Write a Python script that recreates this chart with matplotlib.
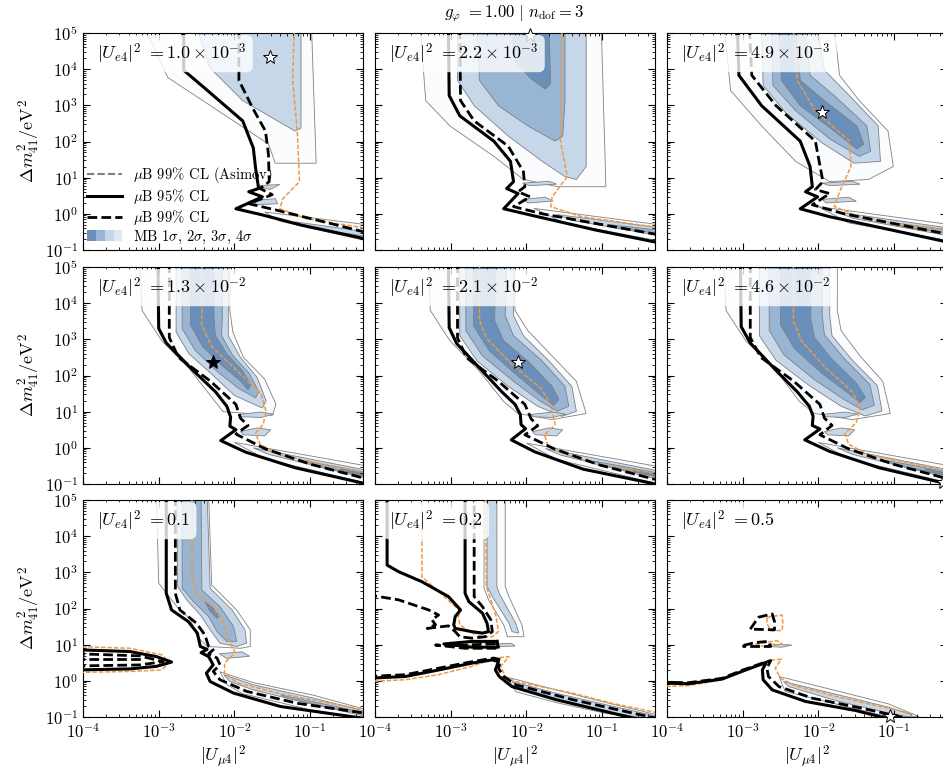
import numpy as np
import matplotlib
matplotlib.use('Agg')
import matplotlib.pyplot as plt
from matplotlib.lines import Line2D
from matplotlib.patches import Patch
from matplotlib.legend_handler import HandlerTuple

plt.rcParams['mathtext.fontset'] = 'cm'
plt.rcParams['font.family'] = 'serif'
plt.rcParams['font.serif'] = ['cmr10', 'DejaVu Serif']
plt.rcParams['axes.formatter.use_mathtext'] = True

# every curve is a list of (log10 |U_mu4|^2, log10 dm41^2 / eV^2)
ue4_labels = [r'1.0 \times 10^{-3}', r'2.2 \times 10^{-3}', r'4.9 \times 10^{-3}',
              r'1.3 \times 10^{-2}', r'2.1 \times 10^{-2}', r'4.6 \times 10^{-2}',
              r'0.1', r'0.2', r'0.5']

# ---- panel 0 : |Ue4|^2 = 1.0e-3
p0_solid = [(-2.67, 5.1), (-2.67, 3.97), (-2.40, 3.49), (-1.89, 2.57), (-1.75, 1.82), (-1.72, 1.26),
            (-1.68, 0.70), (-1.81, 0.61), (-1.63, 0.47), (-1.98, 0.14), (-1.63, -0.03), (-1.12, -0.31), (-0.25, -0.70)]
p0_dashed = [(-1.94, 5.1), (-1.94, 3.69), (-1.76, 2.93), (-1.59, 2.29), (-1.55, 1.65), (-1.54, 0.89),
             (-1.66, 0.70), (-1.50, 0.53), (-1.81, 0.28), (-1.46, 0.11), (-0.82, -0.22), (-0.25, -0.52)]
p0_orange = [(-1.21, 5.1), (-1.23, 3.69), (-1.17, 2.29), (-1.14, 0.89), (-1.36, 0.42), (-1.40, 0.14),
             (-1.04, -0.14), (-0.25, -0.40)]
p0_s3 = [(-2.49, 5.1), (-2.33, 4.05), (-1.89, 3.13), (-1.20, 2.29), (-1.12, 2.37), (-1.12, 5.1)]
p0_s4 = [(-3.18, 5.1), (-2.88, 3.77), (-1.55, 1.93), (-1.46, 1.40), (-0.92, 1.40), (-0.98, 5.1)]
p0_t3 = [(-1.20, -0.22), (-0.25, -0.50), (-0.25, -0.62), (-1.00, -0.40)]
p0_t4 = [(-1.60, 0.05), (-0.25, -0.30), (-0.25, -0.75), (-1.40, -0.20)]
p0_isl = [[(-1.70, 0.78), (-1.40, 0.81), (-1.53, 0.67)],
          [(-1.79, 0.36), (-1.46, 0.42), (-1.43, 0.28), (-1.70, 0.25)]]

# ---- panel 1 : |Ue4|^2 = 2.2e-3
p1_solid = [(-3.03, 5.1), (-3.02, 3.27), (-2.88, 2.71), (-2.43, 2.01), (-2.21, 1.45), (-2.17, 0.89),
            (-2.26, 0.70), (-2.11, 0.56), (-2.30, 0.14), (-1.85, -0.08), (-1.08, -0.45), (-0.25, -0.80)]
p1_dashed = [(-2.88, 5.1), (-2.87, 3.13), (-2.69, 2.57), (-2.24, 1.87), (-2.04, 1.17), (-2.02, 0.75),
             (-2.11, 0.61), (-1.95, 0.47), (-2.17, 0.20), (-1.79, 0.00), (-0.25, -0.58)]
p1_orange = [(-1.53, 5.1), (-1.55, 2.01), (-1.46, 1.03), (-1.66, 0.47), (-1.68, 0.20), (-1.27, -0.08), (-0.25, -0.38)]
p1_s1 = [(-2.20, 5.1), (-2.14, 4.20), (-1.95, 3.75), (-1.75, 3.45), (-1.68, 3.60), (-1.70, 5.1)]
p1_s2 = [(-2.65, 5.1), (-2.62, 3.69), (-2.37, 2.99), (-1.98, 2.43), (-1.62, 2.01), (-1.52, 2.15), (-1.49, 3.13), (-1.49, 5.1)]
p1_s3 = [(-2.91, 5.1), (-2.91, 3.69), (-2.69, 2.99), (-2.24, 2.15), (-1.79, 1.45), (-1.49, 1.03), (-1.34, 0.95),
         (-1.21, 1.31), (-1.21, 5.1)]
p1_s4 = [(-3.40, 5.1), (-3.33, 3.13), (-3.01, 2.43), (-2.43, 1.59), (-2.04, 0.95), (-1.59, 0.75), (-0.95, 0.75), (-1.01, 5.1)]
p1_t2 = [(-0.90, -0.30), (-0.25, -0.45), (-0.25, -0.55), (-0.80, -0.38)]
p1_t3 = [(-1.60, -0.02), (-0.25, -0.38), (-0.25, -0.60), (-1.40, -0.18)]
p1_t4 = [(-1.90, 0.15), (-0.25, -0.30), (-0.25, -0.75), (-1.50, -0.25)]
p1_isl = [[(-2.05, 0.85), (-1.70, 0.90), (-1.60, 0.82), (-1.95, 0.78)],
          [(-2.05, 0.40), (-1.75, 0.46), (-1.65, 0.35), (-1.98, 0.30)]]

# ---- panel 2 : |Ue4|^2 = 4.9e-3
p2_solid = [(-3.07, 5.1), (-3.05, 3.83), (-2.75, 2.99), (-2.24, 2.01), (-2.11, 1.31), (-2.08, 0.75),
            (-2.17, 0.61), (-2.01, 0.47), (-2.24, 0.14), (-1.85, -0.08), (-0.25, -0.80)]
p2_dashed = [(-2.91, 5.1), (-2.88, 3.83), (-2.56, 2.99), (-2.04, 2.01), (-1.94, 0.89), (-2.04, 0.67),
             (-1.85, 0.56), (-2.08, 0.25), (-1.66, 0.00), (-0.25, -0.58)]
p2_orange = [(-2.33, 5.1), (-2.28, 3.69), (-2.04, 2.85), (-1.59, 2.01), (-1.57, 1.31), (-1.72, 0.61),
             (-1.79, 0.20), (-1.34, -0.17), (-0.25, -0.47)]
p2_s1 = [(-2.52, 5.1), (-2.49, 3.69), (-2.24, 2.99), (-1.79, 2.29), (-1.49, 1.79), (-1.40, 1.93), (-1.49, 2.43),
         (-1.92, 3.13), (-2.24, 3.69), (-2.30, 5.1)]
p2_s2 = [(-2.62, 5.1), (-2.60, 3.55), (-2.30, 2.85), (-1.85, 2.07), (-1.46, 1.59), (-1.31, 1.73), (-1.36, 2.43),
         (-1.79, 3.27), (-2.11, 3.83), (-2.17, 5.1)]
p2_s3 = [(-2.75, 5.1), (-2.73, 3.55), (-2.43, 2.79), (-1.95, 1.96), (-1.53, 1.40), (-1.18, 1.45), (-1.21, 2.43),
         (-1.59, 3.27), (-1.92, 3.97), (-2.01, 5.1)]
p2_s4 = [(-3.24, 5.1), (-3.16, 3.41), (-2.75, 2.43), (-2.30, 1.45), (-1.85, 0.89), (-1.34, 0.95), (-1.01, 1.31),
         (-1.08, 2.29), (-1.46, 3.13), (-1.72, 3.83), (-1.79, 5.1)]
p2_t2 = [(-1.00, -0.25), (-0.25, -0.45), (-0.25, -0.55), (-0.90, -0.35)]
p2_t3 = [(-1.75, 0.05), (-0.25, -0.40), (-0.25, -0.62), (-1.55, -0.12)]
p2_t4 = [(-2.00, 0.20), (-0.25, -0.30), (-0.25, -0.75), (-1.60, -0.25)]
p2_isl = [[(-1.95, 0.85), (-1.55, 0.90), (-1.45, 0.82), (-1.85, 0.78)],
          [(-1.95, 0.40), (-1.60, 0.46), (-1.50, 0.35), (-1.90, 0.30)]]

# ---- panel 3 : |Ue4|^2 = 1.3e-2
p3_solid = [(-3.01, 5.1), (-3.00, 3.30), (-2.90, 2.90), (-2.55, 2.15), (-2.25, 1.55), (-2.10, 1.15), (-2.05, 0.85),
            (-2.06, 0.60), (-1.98, 0.50), (-2.18, 0.20), (-1.85, -0.12), (-1.20, -0.55), (-0.25, -1.0)]
p3_dashed = [(-2.86, 5.1), (-2.86, 3.05), (-2.74, 2.50), (-2.32, 1.85), (-1.98, 1.20), (-1.92, 0.82), (-1.82, 0.62),
             (-1.98, 0.38), (-1.60, -0.02), (-1.00, -0.45), (-0.25, -0.86)]
p3_orange = [(-2.43, 5.1), (-2.43, 3.40), (-2.30, 2.80), (-1.95, 2.10), (-1.65, 1.50), (-1.58, 1.00), (-1.62, 0.65),
             (-1.72, 0.40), (-1.66, 0.10), (-1.40, -0.20), (-0.25, -0.70)]
p3_s1 = [(-2.58, 5.1), (-2.58, 3.40), (-2.42, 2.80), (-2.15, 2.25), (-1.92, 1.85), (-1.82, 1.60), (-1.78, 1.75),
         (-1.90, 2.15), (-2.10, 2.60), (-2.25, 3.10), (-2.27, 3.60), (-2.27, 5.1)]
p3_s2 = [(-2.69, 5.1), (-2.69, 3.30), (-2.52, 2.70), (-2.22, 2.10), (-1.95, 1.65), (-1.72, 1.38), (-1.68, 1.55),
         (-1.80, 2.05), (-2.02, 2.55), (-2.17, 3.10), (-2.16, 3.60), (-2.16, 5.1)]
p3_s3 = [(-2.77, 5.1), (-2.77, 3.20), (-2.60, 2.60), (-2.28, 2.00), (-2.00, 1.45), (-1.63, 1.10), (-1.58, 1.30),
         (-1.70, 1.95), (-1.92, 2.50), (-2.08, 3.10), (-2.08, 5.1)]
p3_s4 = [(-3.25, 5.1), (-3.22, 3.80), (-2.96, 2.96), (-2.60, 2.20), (-2.30, 1.40), (-2.15, 1.00), (-1.50, 0.90),
         (-1.45, 1.20), (-1.60, 1.90), (-1.88, 2.50), (-2.02, 3.20), (-2.06, 3.80), (-2.06, 5.1)]
p3_t1 = [(-0.60, -0.58), (-0.25, -0.72), (-0.25, -0.78), (-0.55, -0.66)]
p3_t2 = [(-1.10, -0.35), (-0.25, -0.68), (-0.25, -0.80), (-1.00, -0.45)]
p3_t3 = [(-1.75, 0.00), (-0.25, -0.62), (-0.25, -0.85), (-1.55, -0.18)]
p3_t4 = [(-2.00, 0.15), (-0.25, -0.50), (-0.25, -0.98), (-1.60, -0.30)]
p3_isl = [[(-1.95, 0.92), (-1.65, 0.99), (-1.48, 0.93), (-1.65, 0.84), (-1.90, 0.86)],
          [(-1.92, 0.45), (-1.70, 0.55), (-1.52, 0.50), (-1.60, 0.33), (-1.88, 0.36)]]

# ---- panel 4 : |Ue4|^2 = 2.1e-2
p4_solid = [(-3.03, 5.1), (-3.02, 3.32), (-2.92, 2.88), (-2.58, 2.12), (-2.33, 1.56), (-2.15, 1.20), (-2.08, 0.92),
            (-2.07, 0.64), (-2.01, 0.53), (-2.20, 0.22), (-1.89, -0.11), (-1.25, -0.59), (-0.25, -1.02)]
p4_dashed = [(-2.91, 5.1), (-2.91, 3.04), (-2.79, 2.49), (-2.37, 1.84), (-2.02, 1.20), (-1.94, 0.81), (-1.85, 0.61),
             (-2.02, 0.36), (-1.63, -0.03), (-1.04, -0.47), (-0.25, -0.90)]
p4_orange = [(-2.62, 5.1), (-2.62, 3.52), (-2.53, 3.04), (-2.20, 2.32), (-1.81, 1.65), (-1.68, 1.20), (-1.62, 0.64),
             (-1.76, 0.36), (-1.72, 0.08), (-1.46, -0.20), (-1.04, -0.47), (-0.25, -0.72)]
p4_s1 = [(-2.70, 5.1), (-2.70, 3.38), (-2.49, 2.68), (-2.11, 1.98), (-1.79, 1.42), (-1.64, 1.17), (-1.57, 1.34),
         (-1.66, 1.70), (-1.98, 2.40), (-2.30, 2.96), (-2.42, 3.52), (-2.40, 5.1)]
p4_s2 = [(-2.80, 5.1), (-2.80, 3.24), (-2.58, 2.54), (-2.17, 1.84), (-1.81, 1.28), (-1.59, 1.01), (-1.44, 1.15),
         (-1.49, 1.70), (-1.79, 2.40), (-2.17, 3.10), (-2.28, 3.66), (-2.26, 5.1)]
p4_s3 = [(-2.88, 5.1), (-2.88, 3.10), (-2.65, 2.40), (-2.24, 1.70), (-1.85, 1.15), (-1.53, 0.87), (-1.34, 1.01),
         (-1.40, 1.70), (-1.70, 2.40), (-2.04, 3.10), (-2.17, 3.66), (-2.17, 5.1)]
p4_s4 = [(-3.29, 5.1), (-3.27, 3.80), (-3.01, 2.96), (-2.62, 2.12), (-2.30, 1.28), (-2.11, 0.95), (-1.66, 0.78),
         (-1.21, 0.95), (-1.34, 1.84), (-1.66, 2.54), (-1.98, 3.24), (-2.15, 3.80), (-2.15, 5.1)]
p4_t1 = [(-0.60, -0.60), (-0.25, -0.74), (-0.25, -0.80), (-0.55, -0.68)]
p4_t2 = [(-1.10, -0.37), (-0.25, -0.70), (-0.25, -0.82), (-1.00, -0.47)]
p4_t3 = [(-1.75, -0.02), (-0.25, -0.64), (-0.25, -0.88), (-1.55, -0.20)]
p4_t4 = [(-2.00, 0.13), (-0.25, -0.52), (-0.25, -1.00), (-1.60, -0.32)]
p4_isl = p3_isl

# ---- panel 5 : |Ue4|^2 = 4.6e-2
p5_solid = [(-3.03, 5.1), (-3.02, 3.35), (-2.90, 2.90), (-2.55, 2.12), (-2.28, 1.55), (-2.12, 1.15), (-2.07, 0.88),
            (-2.08, 0.62), (-1.98, 0.52), (-2.18, 0.22), (-1.85, -0.10), (-1.20, -0.55), (-0.25, -1.02)]
p5_dashed = [(-2.90, 5.1), (-2.90, 3.05), (-2.76, 2.50), (-2.33, 1.85), (-1.98, 1.20), (-1.92, 0.82), (-1.82, 0.62),
             (-1.98, 0.36), (-1.60, -0.03), (-1.00, -0.46), (-0.25, -0.88)]
p5_orange = [(-2.33, 5.1), (-2.33, 3.50), (-2.22, 2.95), (-1.90, 2.20), (-1.55, 1.55), (-1.45, 1.10), (-1.50, 0.70),
             (-1.65, 0.40), (-1.60, 0.10), (-1.35, -0.18), (-0.25, -0.66)]
p5_s1 = [(-2.50, 5.1), (-2.50, 3.40), (-2.32, 2.75), (-1.95, 2.05), (-1.60, 1.50), (-1.45, 1.25), (-1.38, 1.40),
         (-1.50, 1.80), (-1.82, 2.45), (-2.05, 3.05), (-2.10, 3.55), (-2.10, 5.1)]
p5_s2 = [(-2.65, 5.1), (-2.65, 3.25), (-2.46, 2.58), (-2.05, 1.88), (-1.65, 1.32), (-1.42, 1.05), (-1.26, 1.18),
         (-1.32, 1.75), (-1.65, 2.45), (-1.92, 3.12), (-1.95, 3.65), (-1.95, 5.1)]
p5_s3 = [(-2.78, 5.1), (-2.78, 3.10), (-2.56, 2.42), (-2.12, 1.72), (-1.70, 1.15), (-1.38, 0.88), (-1.16, 1.02),
         (-1.22, 1.72), (-1.55, 2.42), (-1.82, 3.10), (-1.85, 3.66), (-1.85, 5.1)]
p5_s4 = [(-3.25, 5.1), (-3.22, 3.80), (-2.96, 2.96), (-2.55, 2.12), (-2.25, 1.28), (-2.05, 0.95), (-1.55, 0.78),
         (-1.05, 0.95), (-1.15, 1.84), (-1.45, 2.54), (-1.70, 3.24), (-1.75, 3.80), (-1.75, 5.1)]
p5_t1 = [(-0.60, -0.58), (-0.25, -0.72), (-0.25, -0.78), (-0.55, -0.66)]
p5_t2 = [(-1.10, -0.35), (-0.25, -0.68), (-0.25, -0.80), (-1.00, -0.45)]
p5_t3 = [(-1.75, 0.00), (-0.25, -0.62), (-0.25, -0.85), (-1.55, -0.18)]
p5_t4 = [(-2.00, 0.15), (-0.25, -0.50), (-0.25, -0.98), (-1.60, -0.30)]
p5_isl = p3_isl

# ---- panel 6 : |Ue4|^2 = 0.1
p6_solid = [(-2.90, 5.1), (-2.90, 2.42), (-2.83, 1.96), (-2.61, 1.64), (-2.49, 1.32), (-2.45, 0.95), (-2.36, 0.87),
            (-2.44, 0.78), (-2.34, 0.67), (-2.28, 0.44), (-2.37, 0.21), (-2.32, -0.02), (-2.01, -0.34),
            (-1.39, -0.71), (-0.25, -1.05)]
p6_dashed = [(-2.78, 5.1), (-2.78, 2.42), (-2.72, 1.96), (-2.50, 1.59), (-2.39, 1.27), (-2.34, 0.95), (-2.28, 0.86),
             (-2.34, 0.75), (-2.23, 0.63), (-2.19, 0.44), (-2.28, 0.26), (-2.19, 0.03), (-1.84, -0.29),
             (-1.17, -0.62), (-0.25, -0.90)]
p6_orange = [(-2.56, 5.1), (-2.56, 2.79), (-2.49, 2.38), (-2.28, 2.05), (-2.15, 1.64), (-2.10, 1.22), (-1.99, 0.78),
             (-2.13, 0.49), (-2.13, 0.21), (-1.97, -0.05), (-1.39, -0.36), (-0.51, -0.71), (-0.25, -0.78)]
p6_solid_isl = [(-4.1, 0.86), (-3.38, 0.81), (-3.03, 0.67), (-2.83, 0.52), (-3.03, 0.40), (-3.38, 0.33), (-4.1, 0.30)]
p6_dashed_isl = [(-4.1, 0.75), (-3.25, 0.69), (-2.94, 0.53), (-3.25, 0.44), (-4.1, 0.41)]
p6_dashed_mid = [(-4.1, 0.60), (-3.20, 0.60)]
p6_orange_isl = [(-4.1, 0.95), (-3.38, 0.90), (-2.96, 0.72), (-2.86, 0.52), (-2.96, 0.30), (-3.38, 0.26), (-4.1, 0.23)]
p6_s1 = [(-2.39, 2.19), (-2.28, 2.01), (-2.19, 1.78), (-2.23, 1.73), (-2.32, 1.92)]
p6_s2 = [(-2.69, 5.1), (-2.69, 2.56), (-2.54, 2.19), (-2.34, 1.78), (-2.23, 1.36), (-2.10, 1.09), (-1.97, 1.09),
         (-2.01, 1.50), (-2.19, 2.05), (-2.43, 2.51), (-2.44, 5.1)]
p6_s3 = [(-2.76, 5.1), (-2.75, 2.61), (-2.63, 2.24), (-2.45, 1.82), (-2.32, 1.41), (-2.19, 1.04), (-1.97, 0.95),
         (-1.84, 1.04), (-1.86, 1.41), (-2.03, 1.96), (-2.32, 2.56), (-2.36, 5.1)]
p6_s4 = [(-3.03, 5.1), (-3.00, 2.70), (-2.76, 2.05), (-2.58, 1.69), (-2.49, 1.22), (-2.36, 0.95), (-1.92, 0.90),
         (-1.79, 0.95), (-1.79, 1.41), (-1.97, 1.96), (-2.30, 2.65), (-2.34, 5.1)]
p6_t2 = [(-1.39, -0.39), (-0.25, -0.89), (-0.25, -0.95), (-1.31, -0.48)]
p6_t3 = [(-2.14, 0.17), (-1.75, -0.11), (-0.95, -0.48), (-0.25, -0.85), (-0.25, -0.99), (-0.95, -0.66),
         (-1.75, -0.25), (-2.06, -0.02)]
p6_t4 = [(-2.19, 0.25), (-1.75, -0.05), (-0.95, -0.40), (-0.25, -0.80), (-0.25, -1.05), (-1.00, -0.80),
         (-1.90, -0.35), (-2.10, -0.10)]
p6_isl = [[(-2.20, 0.75), (-1.90, 0.80), (-1.80, 0.68), (-2.10, 0.62)]]

# ---- panel 7 : |Ue4|^2 = 0.2
p7_solid = [(-3.84, 5.1), (-3.84, 3.20), (-3.69, 3.02), (-3.38, 2.74), (-3.03, 2.33), (-2.87, 1.96), (-2.94, 1.78),
            (-2.96, 1.55), (-2.94, 1.45), (-2.72, 1.36), (-2.58, 1.32), (-2.50, 1.36), (-2.52, 1.59), (-2.58, 1.87),
            (-2.76, 2.19), (-2.81, 2.42), (-2.81, 5.1)]
p7_solid_loop = [(-2.39, 1.09), (-2.72, 1.09), (-3.09, 1.02), (-2.72, 0.93), (-2.37, 0.93), (-2.39, 1.09)]
p7_solid_low = [(-4.1, 0.07), (-3.60, 0.12), (-3.16, 0.30), (-2.72, 0.49), (-2.45, 0.58), (-2.37, 0.53),
                (-2.41, 0.30), (-2.36, 0.12), (-2.19, -0.16), (-1.61, -0.52), (-0.95, -0.85), (-0.45, -1.1)]
p7_dashed = [(-4.1, 2.38), (-3.69, 2.24), (-3.29, 1.96), (-3.16, 1.82), (-3.25, 1.69), (-3.20, 1.55), (-3.31, 1.45),
             (-3.03, 1.52), (-2.94, 1.36), (-2.88, 1.22), (-2.72, 1.18), (-2.54, 1.22), (-2.45, 1.36), (-2.47, 1.69),
             (-2.58, 2.05), (-2.69, 2.33), (-2.69, 5.1)]
p7_dashed_loop = [(-2.41, 1.02), (-2.81, 0.99), (-3.20, 0.99), (-2.81, 0.90), (-2.39, 0.90), (-2.41, 1.02)]
p7_dashed_low = [(-4.1, 0.12), (-3.60, 0.17), (-3.16, 0.35), (-2.72, 0.53), (-2.43, 0.63), (-2.34, 0.58),
                 (-2.37, 0.35), (-2.30, 0.12), (-2.14, -0.11), (-1.39, -0.52), (-0.60, -0.89), (-0.25, -1.05)]
p7_orange = [(-3.38, 5.1), (-3.38, 2.88), (-3.16, 2.47), (-2.87, 1.92), (-2.90, 1.78), (-2.88, 1.55), (-2.76, 1.36),
             (-2.58, 1.22), (-2.45, 1.22), (-2.37, 1.36), (-2.40, 1.78), (-2.47, 2.24), (-2.53, 2.61), (-2.54, 5.1)]
p7_orange_loop = [(-2.41, 1.04), (-2.72, 1.02), (-2.94, 0.97), (-2.72, 0.92), (-2.36, 0.95), (-2.41, 1.04)]
p7_orange_low = [(-4.1, -0.02), (-3.60, 0.03), (-3.16, 0.17), (-2.72, 0.40), (-2.41, 0.63), (-2.23, 0.67),
                 (-2.34, 0.40), (-2.28, 0.12), (-2.14, -0.02), (-1.39, -0.34), (-0.87, -0.62), (-0.25, -0.89)]
p7_s3 = [(-2.52, 5.1), (-2.52, 2.61), (-2.45, 2.33), (-2.23, 1.59), (-2.19, 1.36), (-2.10, 1.32), (-2.14, 1.59),
         (-2.36, 2.42), (-2.39, 2.61), (-2.39, 5.1)]
p7_s4 = [(-2.56, 5.1), (-2.56, 2.56), (-2.50, 2.24), (-2.30, 1.55), (-2.25, 1.22), (-2.03, 1.22), (-2.06, 1.55),
         (-2.23, 2.33), (-2.28, 2.61), (-2.28, 5.1)]
p7_t3 = [(-2.19, -0.02), (-1.61, -0.34), (-0.95, -0.66), (-0.25, -0.99), (-0.25, -1.1), (-0.95, -0.85),
         (-1.61, -0.52), (-2.10, -0.20)]
p7_t4 = [(-2.25, 0.10), (-1.61, -0.25), (-0.95, -0.60), (-0.25, -0.95), (-0.25, -1.1), (-0.95, -0.90),
         (-1.61, -0.60), (-2.14, -0.30)]
p7_isl = [[(-2.40, 1.02), (-2.20, 1.04), (-2.15, 0.96), (-2.38, 0.95)]]

# ---- panel 8 : |Ue4|^2 = 0.5
p8_solid_low = [(-4.1, -0.06), (-3.71, -0.08), (-3.27, 0.05), (-3.01, 0.26), (-2.74, 0.47), (-2.69, 0.51),
                (-2.74, 0.30), (-2.73, 0.03), (-2.61, -0.25), (-2.17, -0.57), (-1.51, -0.82), (-1.07, -1.05)]
p8_dashed_low = [(-4.1, -0.04), (-3.71, -0.05), (-3.27, 0.07), (-3.01, 0.29), (-2.74, 0.49), (-2.63, 0.56),
                 (-2.68, 0.35), (-2.66, 0.12), (-2.52, -0.16), (-2.08, -0.48), (-1.42, -0.76), (-0.80, -1.05)]
p8_orange_low = [(-4.1, -0.16), (-3.71, -0.13), (-3.27, 0.03), (-2.92, 0.35), (-2.66, 0.56), (-2.49, 0.60),
                 (-2.57, 0.35), (-2.50, 0.07), (-2.30, -0.14), (-1.73, -0.45), (-1.07, -0.76), (-0.80, -0.89)]
p8_dashed_up = [(-2.90, 1.43), (-2.79, 1.76), (-2.61, 1.85), (-2.58, 1.64), (-2.58, 1.41), (-2.90, 1.43)]
p8_orange_up = [(-2.68, 1.76), (-2.48, 1.82), (-2.47, 1.59), (-2.48, 1.39), (-2.63, 1.39), (-2.68, 1.59), (-2.68, 1.76)]
p8_dashed_mid = [(-2.99, 0.98), (-2.83, 1.06), (-2.66, 1.09), (-2.63, 0.95), (-2.99, 0.95), (-2.99, 0.98)]
p8_orange_mid = [(-2.83, 1.02), (-2.55, 1.11), (-2.48, 1.02), (-2.70, 0.93), (-2.83, 1.02)]
p8_isl = [[(-2.66, 1.02), (-2.35, 0.99), (-2.48, 0.93), (-2.66, 0.95)]]
p8_t3 = [(-2.46, -0.02), (-1.73, -0.39), (-1.07, -0.73), (-0.76, -0.94), (-0.80, -1.0), (-1.07, -0.89),
         (-1.73, -0.57), (-2.39, -0.16)]
p8_t4 = [(-2.52, 0.12), (-1.73, -0.29), (-1.07, -0.64), (-0.67, -0.99), (-1.07, -1.0), (-1.73, -0.66), (-2.44, -0.29)]

# best-fit stars: (panel, log10 x, log10 y, face colour)
stars = [(0, -1.53, 4.34, 'white'), (1, -1.95, 4.95, 'white'), (2, -1.95, 2.82, 'white'),
         (3, -2.28, 2.38, 'black'), (4, -2.11, 2.38, 'white'), (5, -0.36, -0.95, 'white'),
         (8, -1.05, -0.97, 'white')]

sigma_colors = ['#6a8fba', '#98b5d4', '#c6d7ea', '#dfe8f2']
region_colors = ['#6a8fba', '#98b5d4', '#c6d7ea', '#fafcfe']

panels = [
    dict(fills=[(3, p0_s4), (3, p0_t4), (2, p0_s3), (2, p0_t3)], isl=p0_isl,
         solid=[p0_solid], dashed=[p0_dashed], orange=[p0_orange]),
    dict(fills=[(3, p1_s4), (3, p1_t4), (2, p1_s3), (2, p1_t3), (1, p1_s2), (1, p1_t2), (0, p1_s1)], isl=p1_isl,
         solid=[p1_solid], dashed=[p1_dashed], orange=[p1_orange]),
    dict(fills=[(3, p2_s4), (3, p2_t4), (2, p2_s3), (2, p2_t3), (1, p2_s2), (1, p2_t2), (0, p2_s1)], isl=p2_isl,
         solid=[p2_solid], dashed=[p2_dashed], orange=[p2_orange]),
    dict(fills=[(3, p3_s4), (3, p3_t4), (2, p3_s3), (2, p3_t3), (1, p3_s2), (1, p3_t2), (0, p3_s1), (0, p3_t1)],
         isl=p3_isl, solid=[p3_solid], dashed=[p3_dashed], orange=[p3_orange]),
    dict(fills=[(3, p4_s4), (3, p4_t4), (2, p4_s3), (2, p4_t3), (1, p4_s2), (1, p4_t2), (0, p4_s1), (0, p4_t1)],
         isl=p4_isl, solid=[p4_solid], dashed=[p4_dashed], orange=[p4_orange]),
    dict(fills=[(3, p5_s4), (3, p5_t4), (2, p5_s3), (2, p5_t3), (1, p5_s2), (1, p5_t2), (0, p5_s1), (0, p5_t1)],
         isl=p5_isl, solid=[p5_solid], dashed=[p5_dashed], orange=[p5_orange]),
    dict(fills=[(3, p6_s4), (3, p6_t4), (2, p6_s3), (2, p6_t3), (1, p6_s2), (1, p6_t2), (0, p6_s1)], isl=p6_isl,
         solid=[p6_solid, p6_solid_isl], dashed=[p6_dashed, p6_dashed_isl, p6_dashed_mid],
         orange=[p6_orange, p6_orange_isl]),
    dict(fills=[(3, p7_s4), (3, p7_t4), (2, p7_s3), (2, p7_t3)], isl=p7_isl,
         solid=[p7_solid, p7_solid_loop, p7_solid_low], dashed=[p7_dashed, p7_dashed_loop, p7_dashed_low],
         orange=[p7_orange, p7_orange_loop, p7_orange_low]),
    dict(fills=[(3, p8_t4), (2, p8_t3)], isl=p8_isl,
         solid=[p8_solid_low], dashed=[p8_dashed_low, p8_dashed_up, p8_dashed_mid],
         orange=[p8_orange_low, p8_orange_up, p8_orange_mid]),
]


def xy(pts):
    a = np.array(pts, dtype=float)
    return 10 ** a[:, 0], 10 ** a[:, 1]


W, H = 943, 768
fig = plt.figure(figsize=(W / 100, H / 100), dpi=100)
col_x = [83, 375, 667]
row_top = [33, 267, 500]
aw, ah = 280, 217

for i, pan in enumerate(panels):
    r, c = divmod(i, 3)
    ax = fig.add_axes([col_x[c] / W, 1 - (row_top[r] + ah) / H, aw / W, ah / H])
    ax.set_xscale('log')
    ax.set_yscale('log')

    for lvl, poly in pan['fills']:
        x, y = xy(poly)
        ax.fill(x, y, facecolor=region_colors[lvl], edgecolor='0.5', lw=0.6, zorder=1)
    for poly in pan['isl']:
        x, y = xy(poly)
        ax.fill(x, y, facecolor=region_colors[2], edgecolor='0.5', lw=0.6, zorder=1)

    for line in pan['orange']:
        x, y = xy(line)
        ax.plot(x, y, color='#ee9a45', lw=1.1, ls=(0, (3, 1.2)), zorder=3)
    for line in pan['dashed']:
        x, y = xy(line)
        ax.plot(x, y, color='black', lw=2.0, ls=(0, (3.5, 1.5)), zorder=4)
    for line in pan['solid']:
        x, y = xy(line)
        ax.plot(x, y, color='black', lw=2.2, zorder=4)

    for k, sx, sy, fc in stars:
        if k == i:
            ax.plot(10 ** sx, 10 ** sy, marker='*', ms=10, mfc=fc, mec='black', mew=0.7, zorder=6,
                    clip_on=False)

    ax.set_xlim(1e-4, 0.5)
    ax.set_ylim(1e-1, 1e5)
    ax.set_yticks([1e-1, 1e0, 1e1, 1e2, 1e3, 1e4, 1e5])
    ax.set_xticks([1e-4, 1e-3, 1e-2, 1e-1])
    ax.tick_params(which='both', direction='in', top=True, right=True, labelsize=12)
    ax.tick_params(which='major', length=5, width=0.8)
    ax.tick_params(which='minor', length=2.5, width=0.6)
    if c != 0:
        ax.tick_params(labelleft=False)
    if r != 2:
        ax.tick_params(labelbottom=False)
    else:
        ax.set_xlabel(r'$|U_{\mu 4}|^2$', fontsize=13)
        ax.xaxis.set_label_coords(0.5, -0.12)
    if c == 0:
        ax.set_ylabel(r'$\Delta m_{41}^2/\mathrm{eV}^2$', fontsize=13)
        ax.yaxis.set_label_coords(-0.145, 0.5)

    ax.text(0.05, 0.905, r'$|U_{e4}|^2\ = ' + ue4_labels[i] + '$', transform=ax.transAxes,
            fontsize=13, ha='left', va='center', zorder=7,
            bbox=dict(boxstyle='round,pad=0.35', fc='white', ec='none', alpha=0.8))

    if i == 0:
        handles = [Line2D([], [], color='0.5', lw=1.5, ls=(0, (3.5, 1.5))),
                   Line2D([], [], color='black', lw=2.2),
                   Line2D([], [], color='black', lw=2.0, ls=(0, (3.5, 1.5))),
                   tuple(Patch(facecolor=col, edgecolor='none') for col in sigma_colors)]
        labels = [r'$\mu$B 99% CL (Asimov)', r'$\mu$B 95% CL', r'$\mu$B 99% CL',
                  r'MB 1$\sigma$, 2$\sigma$, 3$\sigma$, 4$\sigma$']
        ax.legend(handles, labels, loc='lower left', frameon=False, fontsize=10.5, handlelength=2.4,
                  labelspacing=0.12, borderaxespad=0.1, borderpad=0.2, handletextpad=0.7,
                  handler_map={tuple: HandlerTuple(ndivide=None, pad=0)})

fig.text(514 / W, 1 - 14 / H, r'$g_{\varphi}\ =1.00\ |\ n_{\mathrm{dof}}=3$', ha='center', va='center',
         fontsize=12)

fig.savefig('out.png', dpi=100)
